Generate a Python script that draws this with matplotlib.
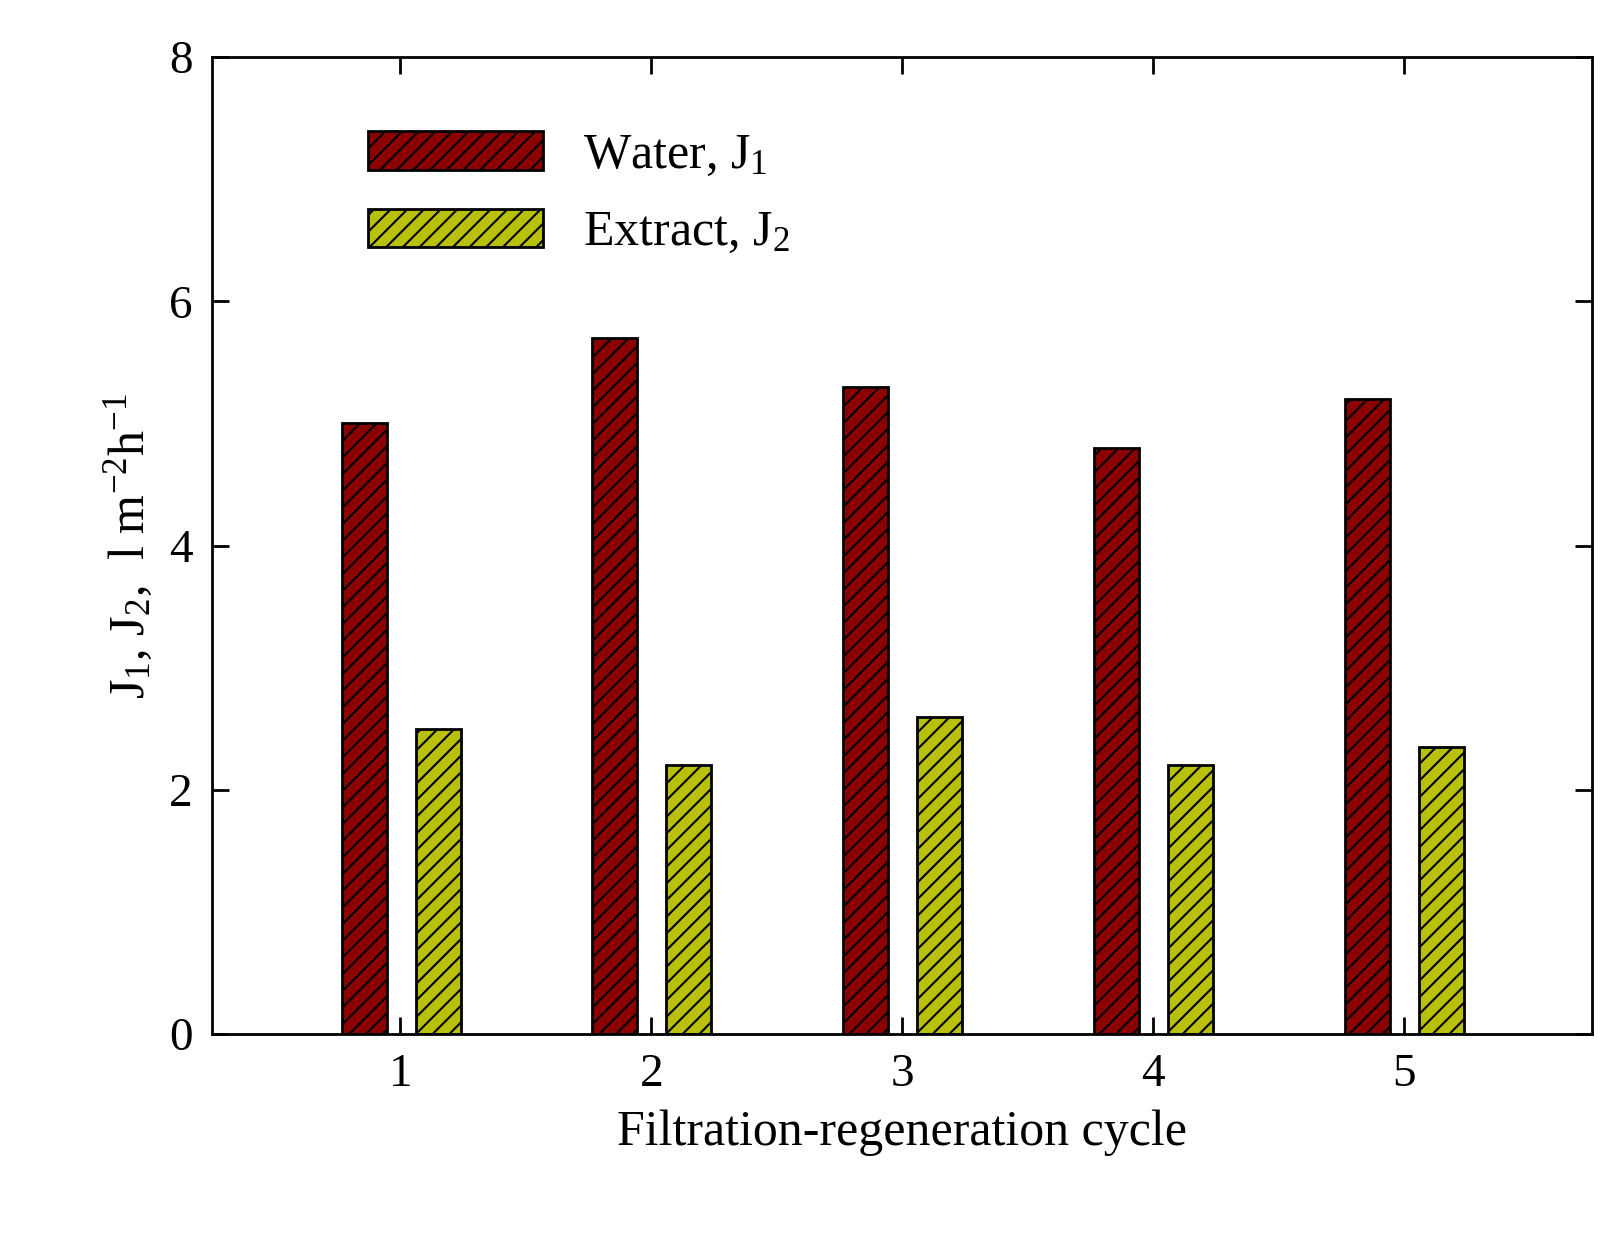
import matplotlib
matplotlib.use("Agg")
import matplotlib.pyplot as plt
import numpy as np

plt.rcParams["font.family"] = "Liberation Serif"
plt.rcParams["mathtext.fontset"] = "custom"
plt.rcParams["mathtext.rm"] = "Liberation Serif"
plt.rcParams["mathtext.it"] = "Liberation Serif"
plt.rcParams["hatch.linewidth"] = 1.5

cycles = [1, 2, 3, 4, 5]
water = [5.0, 5.7, 5.3, 4.8, 5.2]
extract = [2.5, 2.2, 2.6, 2.2, 2.35]

fig = plt.figure(figsize=(16.21, 12.40), dpi=100)
ax = fig.add_axes([0.131, 0.166, 0.851, 0.788])
x = np.array(cycles)
w = 0.18
ax.bar(x - 0.145, water, w, color="#8B0000", edgecolor="black", linewidth=2,
       hatch="//", label="Water, J$_1$")
ax.bar(x + 0.15, extract, w, color="#B9C00A", edgecolor="black", linewidth=2,
       hatch="//", label="Extract, J$_2$")

ax.set_xlim(0.25, 5.75)
ax.set_ylim(0, 8)
ax.set_xticks(cycles)
ax.set_yticks([0, 2, 4, 6, 8])
ax.tick_params(direction="in", top=True, right=True, length=12, width=2,
               labelsize=34, pad=14)
for s in ax.spines.values():
    s.set_linewidth(2)
ax.set_xlabel("Filtration-regeneration cycle", fontsize=36, labelpad=10)
ax.set_ylabel("J$_1$, J$_2$,  l m$^{-2}$h$^{-1}$", fontsize=36, labelpad=10)
ax.legend(loc="upper left", bbox_to_anchor=(0.08, 0.97), frameon=False,
          fontsize=36, handlelength=3.5, handleheight=0.8, labelspacing=0.6)

fig.savefig("out.png", dpi=100)
